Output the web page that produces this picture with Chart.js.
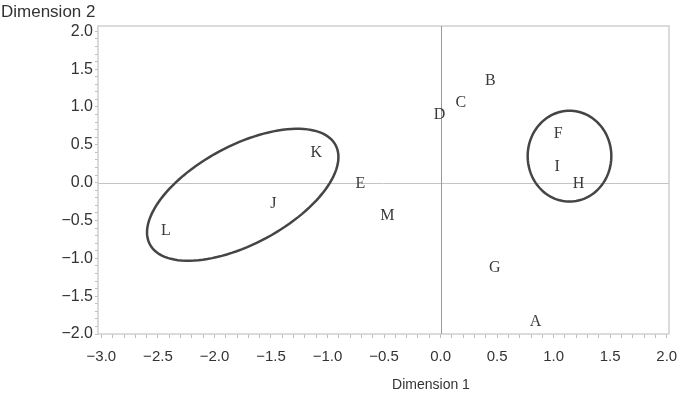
<!DOCTYPE html>
<html>
<head>
<meta charset="utf-8">
<script src="https://cdn.jsdelivr.net/npm/chart.js@4"></script>
<style>
  body { margin: 0; background: #fff; }
  #wrap { width: 677px; height: 394px; }
</style>
</head>
<body>
<div id="wrap"><canvas id="mds" width="677" height="394"></canvas></div>
<script>
// points
const letters = ['A', 'B', 'C', 'D', 'E', 'F', 'G', 'H', 'I', 'J', 'K', 'L', 'M'];
const dim1 = [0.84, 0.44, 0.18, -0.01, -0.71, 1.04, 0.48, 1.22, 1.03, -1.48, -1.10, -2.43, -0.47];
const dim2 = [-1.84, 1.34, 1.06, 0.90, -0.01, 0.65, -1.13, -0.01, 0.21, -0.28, 0.40, -0.64, -0.44];

// x ticks every 0.1, labelled every 0.5
const xTicks = [];
for (let i = -30; i <= 20; i++) xTicks.push(i / 10);
const yTicks = [];
for (let i = -20; i <= 20; i++) yTicks.push(i / 10);

// hand drawn groupings: center, two conjugate half-axes (data units)
const groups = [
  { c: [-1.75, -0.16], u: [0.82, 0.66], v: [-0.21, 0.57] },
  { c: [1.14, 0.35], u: [0.37, 0], v: [0, 0.60] }
];

function fmt(v) {
  if (Math.abs(v * 2 - Math.round(v * 2)) > 1e-6) return '';
  const s = Math.abs(v).toFixed(1);
  return v < -1e-9 ? '\u2212' + s : s;
}

const extras = {
  id: 'extras',
  beforeDatasetsDraw(chart) {
    const { ctx, chartArea: a, scales: { x, y } } = chart;
    ctx.save();
    ctx.strokeStyle = '#cfcfcf';
    ctx.lineWidth = 1.5;
    ctx.strokeRect(a.left, a.top, a.right - a.left, a.bottom - a.top);
    // reference lines at zero
    ctx.lineWidth = 1;
    ctx.strokeStyle = '#c4c4c4';
    const y0 = Math.round(y.getPixelForValue(0)) + 0.5;
    ctx.beginPath(); ctx.moveTo(a.left, y0); ctx.lineTo(a.right, y0); ctx.stroke();
    ctx.strokeStyle = '#999';
    const x0 = Math.round(x.getPixelForValue(0)) + 0.5;
    ctx.beginPath(); ctx.moveTo(x0, a.top); ctx.lineTo(x0, a.bottom); ctx.stroke();
    ctx.restore();
  },
  afterDatasetsDraw(chart) {
    const { ctx, scales: { x, y } } = chart;
    ctx.save();
    // ellipses
    ctx.strokeStyle = '#454545';
    ctx.lineWidth = 2.5;
    groups.forEach(g => {
      ctx.beginPath();
      for (let k = 0; k <= 120; k++) {
        const t = k / 120 * Math.PI * 2;
        const px = x.getPixelForValue(g.c[0] + Math.cos(t) * g.u[0] + Math.sin(t) * g.v[0]);
        const py = y.getPixelForValue(g.c[1] + Math.cos(t) * g.u[1] + Math.sin(t) * g.v[1]);
        if (k === 0) ctx.moveTo(px, py); else ctx.lineTo(px, py);
      }
      ctx.closePath();
      ctx.stroke();
    });
    // point letters
    const meta = chart.getDatasetMeta(0);
    ctx.fillStyle = '#3a3a3a';
    ctx.font = '16px "Liberation Serif", serif';
    ctx.textAlign = 'center';
    ctx.textBaseline = 'middle';
    meta.data.forEach((p, i) => ctx.fillText(letters[i], p.x, p.y));
    // axis titles
    ctx.fillStyle = '#333';
    ctx.font = '17px "Liberation Sans", sans-serif';
    ctx.textAlign = 'left';
    ctx.fillText('Dimension 2', 1, 12);
    ctx.font = '14px "Liberation Sans", sans-serif';
    ctx.textAlign = 'center';
    ctx.fillText('Dimension 1', 431, 385);
    ctx.restore();
  }
};

new Chart(document.getElementById('mds'), {
  type: 'scatter',
  data: {
    datasets: [{
      data: dim1.map((v, i) => ({ x: v, y: dim2[i] })),
      pointRadius: 0,
      pointHoverRadius: 0
    }]
  },
  options: {
    responsive: false,
    animation: false,
    events: [],
    layout: { padding: { top: 26, right: 8, left: 0, bottom: 0 } },
    plugins: { legend: { display: false }, tooltip: { enabled: false } },
    scales: {
      x: {
        min: -3.03,
        max: 2.02,
        afterBuildTicks: s => { s.ticks = xTicks.map(v => ({ value: v })); },
        afterFit: s => { s.height = 60; s.paddingLeft = 0; s.paddingRight = 0; },
        border: { display: false },
        grid: { drawOnChartArea: false, tickLength: 4, color: '#bdbdbd' },
        ticks: {
          autoSkip: false,
          maxRotation: 0,
          padding: 10,
          color: '#333',
          font: { family: 'Liberation Sans', size: 15 },
          callback: v => fmt(v)
        }
      },
      y: {
        min: -2.0,
        max: 2.07,
        afterBuildTicks: s => { s.ticks = yTicks.map(v => ({ value: v })); },
        afterFit: s => { s.width = 98; s.paddingTop = 0; s.paddingBottom = 0; },
        border: { display: false },
        grid: { drawOnChartArea: false, tickLength: 3, color: '#bdbdbd' },
        ticks: {
          autoSkip: false,
          padding: 2,
          color: '#333',
          font: { family: 'Liberation Sans', size: 16 },
          callback: v => fmt(v)
        }
      }
    }
  },
  plugins: [extras]
});
</script>
</body>
</html>
